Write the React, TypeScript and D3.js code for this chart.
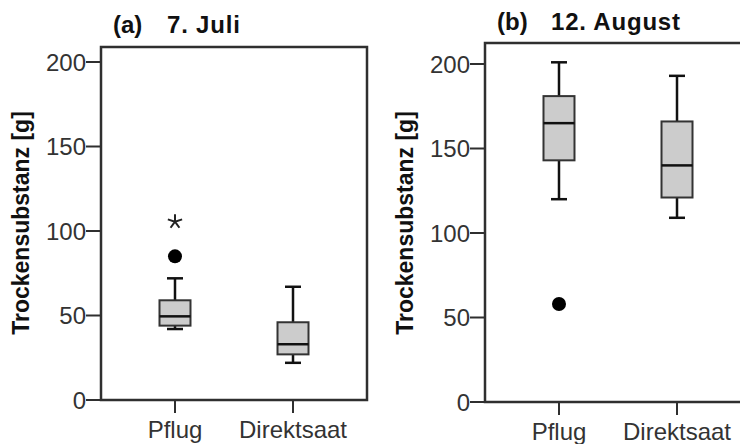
import * as d3 from 'd3';

const categories = ['Pflug', 'Direktsaat'];
const yTicks = [0, 50, 100, 150, 200];

// (a) 7. Juli
const juliLow = [42, 22];
const juliQ1 = [44, 27];
const juliMedian = [49.5, 33];
const juliQ3 = [59, 46];
const juliHigh = [72, 67];
const juliOutliers = [[85], []];
const juliExtremes = [[105.5], []];

// (b) 12. August
const augLow = [120, 109];
const augQ1 = [143, 121];
const augMedian = [165, 140];
const augQ3 = [181, 166];
const augHigh = [201, 193];
const augOutliers = [[58], []];
const augExtremes = [[], []];

const font = "'Liberation Sans', Arial, sans-serif";
const axisColor = '#2f2f2f';

interface PanelProps {
  tag: string;
  title: string;
  left: number;
  top: number;
  bottom: number;
  titleY: number;
  low: number[];
  q1: number[];
  median: number[];
  q3: number[];
  high: number[];
  outliers: number[][];
  extremes: number[][];
}

function starPath(cx: number, cy: number, r: number) {
  const p = d3.path();
  for (let i = 0; i < 5; i++) {
    const a = -Math.PI / 2 + (i * 2 * Math.PI) / 5;
    p.moveTo(cx, cy);
    p.lineTo(cx + r * Math.cos(a), cy + r * Math.sin(a));
  }
  return p.toString();
}

function Panel({ tag, title, left, top, bottom, titleY, low, q1, median, q3, high, outliers, extremes }: PanelProps) {
  const width = 266;
  const y = d3.scaleLinear().domain([0, 200]).range([bottom, bottom - 338]);
  const x = d3.scalePoint<string>().domain(categories).range([left, left + width]).padding(0.627);
  const boxW = 31;
  const capW = 16;

  return (
    <g>
      <text x={left + 12} y={titleY} fontFamily={font} fontWeight="bold" fontSize={24} fill="#111">{tag}</text>
      <text x={left + 66} y={titleY} fontFamily={font} fontWeight="bold" fontSize={24} fill="#111" letterSpacing={0.8}>{title}</text>

      <rect x={left} y={top} width={width} height={bottom - top} fill="none" stroke={axisColor} strokeWidth={2.5} />

      {yTicks.map(t => (
        <g key={t}>
          <line x1={left - 15} x2={left} y1={y(t)} y2={y(t)} stroke={axisColor} strokeWidth={2} />
          <text x={left - 15} y={y(t)} dy="0.36em" textAnchor="end" fontFamily={font} fontSize={24} fill="#333">{t}</text>
        </g>
      ))}

      <text
        transform={`translate(${left - 80},${223}) rotate(-90)`}
        textAnchor="middle"
        dy="0.36em"
        fontFamily={font}
        fontWeight="bold"
        fontSize={23}
        fill="#111"
      >Trockensubstanz [g]</text>

      {categories.map((c, i) => {
        const cx = x(c)!;
        return (
          <g key={c}>
            <line x1={cx} x2={cx} y1={bottom} y2={bottom + 13} stroke={axisColor} strokeWidth={2} />
            <text x={cx} y={bottom + 38} textAnchor="middle" fontFamily={font} fontSize={24} fill="#333">{c}</text>

            <line x1={cx} x2={cx} y1={y(high[i])} y2={y(q3[i])} stroke="#111" strokeWidth={2.5} />
            <line x1={cx} x2={cx} y1={y(q1[i])} y2={y(low[i])} stroke="#111" strokeWidth={2.5} />
            <line x1={cx - capW / 2} x2={cx + capW / 2} y1={y(high[i])} y2={y(high[i])} stroke="#111" strokeWidth={2.5} />
            <line x1={cx - capW / 2} x2={cx + capW / 2} y1={y(low[i])} y2={y(low[i])} stroke="#111" strokeWidth={2.5} />
            <rect
              x={cx - boxW / 2}
              y={y(q3[i])}
              width={boxW}
              height={y(q1[i]) - y(q3[i])}
              fill="#cccccc"
              stroke="#333"
              strokeWidth={2}
            />
            <line x1={cx - boxW / 2} x2={cx + boxW / 2} y1={y(median[i])} y2={y(median[i])} stroke="#111" strokeWidth={2.5} />

            {outliers[i].map((v, j) => (
              <circle key={j} cx={cx} cy={y(v)} r={7} fill="#000" />
            ))}
            {extremes[i].map((v, j) => (
              <path key={j} d={starPath(cx, y(v), 7.5)} stroke="#222" strokeWidth={2} fill="none" />
            ))}
          </g>
        );
      })}
    </g>
  );
}

export default function App() {
  return (
    <div style={{ position: 'absolute', left: 0, top: 0 }}>
      <svg width={740} height={444} style={{ display: 'block', background: '#fff' }}>
        <Panel
          tag="(a)" title="7. Juli" left={101} top={47} bottom={400} titleY={33}
          low={juliLow} q1={juliQ1} median={juliMedian} q3={juliQ3} high={juliHigh}
          outliers={juliOutliers} extremes={juliExtremes}
        />
        <Panel
          tag="(b)" title="12. August" left={485} top={43} bottom={402} titleY={30}
          low={augLow} q1={augQ1} median={augMedian} q3={augQ3} high={augHigh}
          outliers={augOutliers} extremes={augExtremes}
        />
      </svg>
    </div>
  );
}
